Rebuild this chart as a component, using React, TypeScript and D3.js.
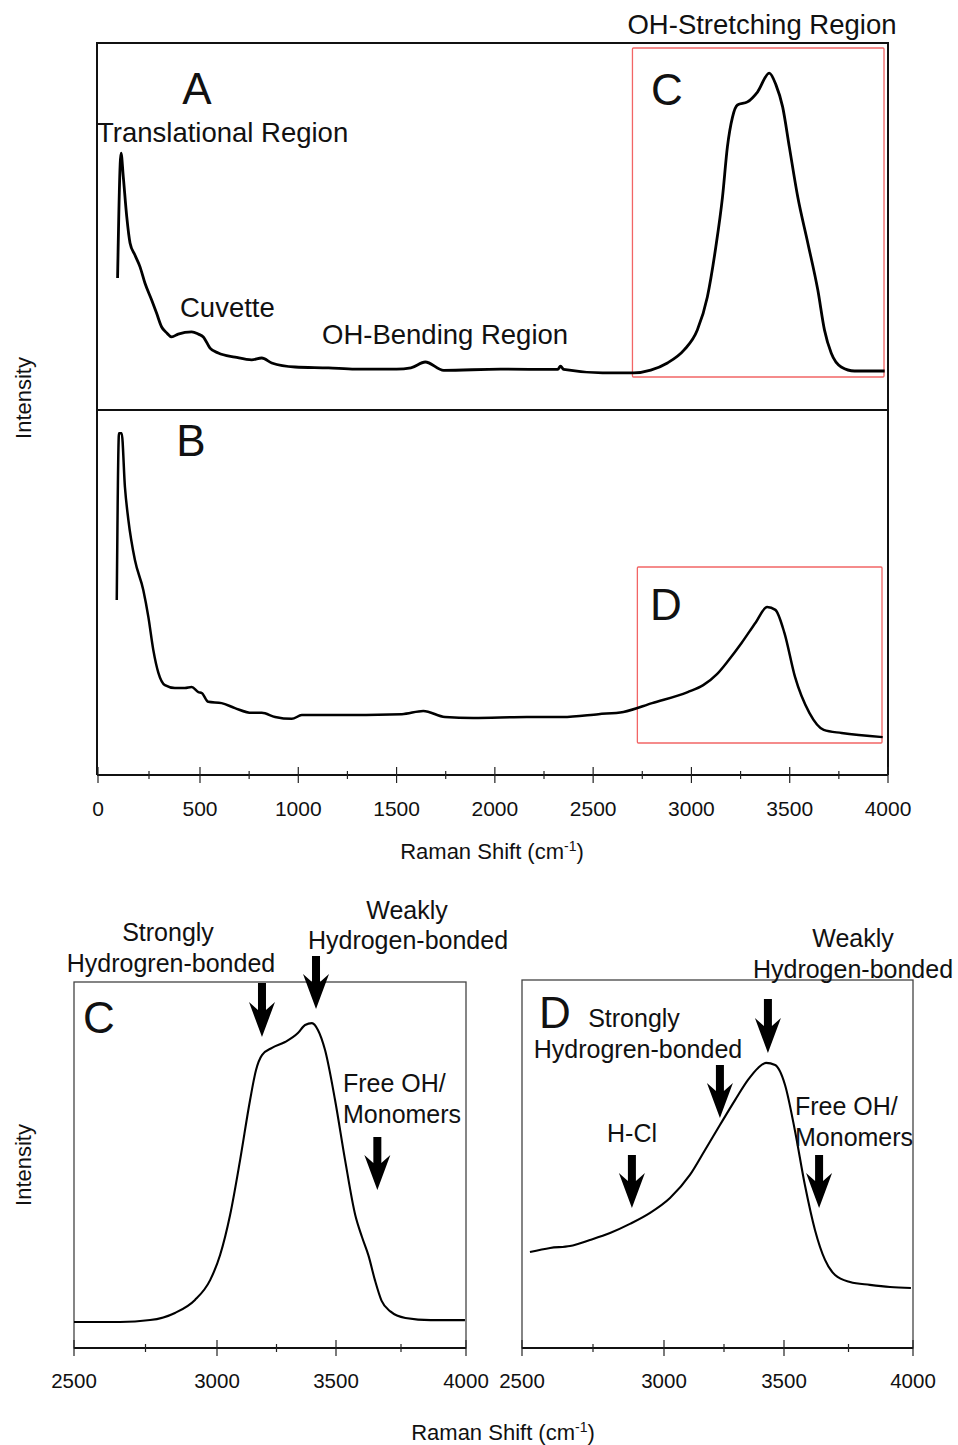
import React, { useRef, useEffect } from 'react';
import * as d3 from 'd3';

// full spectrum, panel A (HCl free)
const shiftA = [96, 113, 124, 141, 157, 181, 206, 230, 263, 287, 312, 337, 361, 393, 459, 492, 517, 551, 593, 678, 763, 814, 865, 984, 1154, 1290, 1500, 1573, 1646, 1740, 2029, 2320, 2334, 2350, 2548, 2706, 2793, 2878, 2963, 3030, 3081, 3124, 3158, 3183, 3209, 3234, 3285, 3336, 3396, 3430, 3464, 3498, 3541, 3592, 3643, 3677, 3711, 3762, 3830, 3983];
const intA = [32.9, 73.2, 65.5, 52.6, 44.2, 40.3, 36.5, 31.3, 25.8, 21.6, 17.1, 15.2, 13.9, 14.8, 15.5, 14.8, 13.9, 10.3, 8.7, 7.4, 6.5, 7.1, 5.5, 4.2, 3.9, 3.5, 3.5, 3.9, 5.8, 3.1, 3.5, 3.4, 4.5, 3.4, 2.3, 2.3, 3.2, 5.5, 9.7, 16.1, 26.8, 42.9, 59.0, 75.2, 84.8, 88.7, 89.7, 92.9, 99.0, 95.2, 88.1, 75.2, 59.0, 44.2, 29.0, 16.1, 8.7, 4.2, 2.9, 2.9];

// full spectrum, panel B
const shiftB = [92, 103, 116, 132, 149, 181, 222, 247, 271, 296, 328, 377, 426, 459, 492, 509, 542, 610, 678, 763, 814, 882, 967, 1018, 1162, 1527, 1636, 1746, 1890, 2163, 2344, 2527, 2654, 2800, 2981, 3060, 3130, 3190, 3255, 3328, 3385, 3427, 3473, 3527, 3600, 3673, 3764, 3973];
const intB = [46.0, 99.0, 99.0, 81.9, 71.4, 58.7, 49.2, 40.6, 30.2, 22.9, 19.0, 18.1, 18.1, 18.4, 16.8, 16.5, 13.7, 13.3, 11.7, 10.2, 10.2, 8.9, 8.3, 9.5, 9.5, 9.8, 10.8, 8.9, 8.6, 8.9, 8.9, 9.8, 10.5, 13.3, 16.8, 19.0, 22.5, 27.0, 32.4, 39.0, 43.8, 42.9, 35.6, 21.6, 10.2, 4.8, 3.8, 2.5];

// OH-stretching region, panel C
const shiftC = [2500, 2661, 2766, 2853, 2923, 2976, 3013, 3055, 3097, 3139, 3164, 3189, 3231, 3286, 3340, 3370, 3399, 3424, 3454, 3496, 3535, 3574, 3600, 3625, 3650, 3675, 3709, 3767, 3864, 3996];
const intC = [2.6, 2.6, 3.2, 5.5, 9.7, 16.1, 24.2, 37.1, 54.8, 74.2, 83.9, 88.7, 91.0, 92.9, 95.8, 98.4, 99.0, 96.8, 90.3, 74.2, 54.8, 37.1, 30.0, 24.0, 16.0, 9.5, 6.0, 3.9, 3.2, 3.2];

// OH-stretching region, panel D
const shiftD = [2528, 2599, 2669, 2739, 2810, 2880, 2951, 3025, 3108, 3171, 3233, 3296, 3350, 3392, 3425, 3463, 3504, 3542, 3581, 3620, 3659, 3698, 3756, 3833, 3911, 3992];
const intD = [20.0, 21.7, 22.5, 25.0, 27.9, 31.7, 36.3, 42.5, 52.1, 62.5, 72.9, 83.3, 91.7, 96.7, 98.8, 97.9, 89.6, 70.8, 47.9, 29.2, 16.7, 10.4, 7.5, 6.3, 5.4, 5.0];

const mainTicks = [0, 500, 1000, 1500, 2000, 2500, 3000, 3500, 4000];
const mainMinor = [250, 750, 1250, 1750, 2250, 2750, 3250, 3750];
const zoomTicks = [2500, 3000, 3500, 4000];
const zoomMinor = [2750, 3250, 3750];

const FONT = '"Liberation Sans", Arial, Helvetica, sans-serif';

const App = () => {
  const svgRef = useRef(null);

  useEffect(() => {
    const svg = d3.select(svgRef.current);
    svg.selectAll('*').remove();

    const line = (xs, ys, x, y) =>
      d3.line().x((d) => x(d[0])).y((d) => y(d[1])).curve(d3.curveMonotoneX)(xs.map((v, i) => [v, ys[i]]));

    const text = (x, y, s, size, anchor = 'start') =>
      svg.append('text').attr('x', x).attr('y', y).attr('font-size', size)
        .attr('font-family', FONT).attr('text-anchor', anchor).attr('fill', '#111').text(s);

    const arrow = (x, yTop, yTip) => {
      const pts = [[x - 4, yTop], [x + 4, yTop], [x + 4, yTip - 27], [x + 13, yTip - 35], [x, yTip],
        [x - 13, yTip - 35], [x - 4, yTip - 27]];
      svg.append('path').attr('d', 'M' + pts.map((p) => p.join(',')).join('L') + 'Z').attr('fill', '#000');
    };

    const xTicks = (x, yAxis, major, minor, labelY, size) => {
      major.forEach((t) => {
        svg.append('line').attr('x1', x(t)).attr('x2', x(t)).attr('y1', yAxis - 8).attr('y2', yAxis + 8)
          .attr('stroke', '#222').attr('stroke-width', 1.2);
        text(x(t), labelY, String(t), size, 'middle');
      });
      minor.forEach((t) => {
        svg.append('line').attr('x1', x(t)).attr('x2', x(t)).attr('y1', yAxis - 4).attr('y2', yAxis + 4)
          .attr('stroke', '#222').attr('stroke-width', 1.2);
      });
    };

    const axisTitle = (cx, y) => {
      const t = svg.append('text').attr('x', cx).attr('y', y).attr('font-size', 22)
        .attr('font-family', FONT).attr('text-anchor', 'middle').attr('fill', '#111');
      t.append('tspan').text('Raman Shift (cm');
      t.append('tspan').attr('dy', -8).attr('font-size', 14).text('-1');
      t.append('tspan').attr('dy', 8).text(')');
    };

    const yLabel = (cy) =>
      svg.append('text').attr('transform', `translate(31,${cy}) rotate(-90)`).attr('font-size', 22)
        .attr('font-family', FONT).attr('text-anchor', 'middle').attr('fill', '#111').text('Intensity');

    // ---------- top figure ----------
    const x = d3.scaleLinear().domain([0, 500, 4000]).range([98, 200, 888]);
    const yA = d3.scaleLinear().domain([0, 100]).range([380, 70]);
    const yB = d3.scaleLinear().domain([0, 100]).range([745, 430]);

    svg.append('path').attr('d', 'M97,775 L97,43 L888,43 L888,775').attr('fill', 'none')
      .attr('stroke', '#111').attr('stroke-width', 2);
    svg.append('line').attr('x1', 97).attr('x2', 888).attr('y1', 410).attr('y2', 410)
      .attr('stroke', '#111').attr('stroke-width', 2.2);
    svg.append('line').attr('x1', 97).attr('x2', 888).attr('y1', 775).attr('y2', 775)
      .attr('stroke', '#111').attr('stroke-width', 2.2);
    xTicks(x, 775, mainTicks, mainMinor, 816, 21);
    axisTitle(492, 859);
    yLabel(398);

    // red boxes
    svg.append('rect').attr('x', x(2700)).attr('y', 48).attr('width', 884 - x(2700)).attr('height', 329)
      .attr('fill', 'none').attr('stroke', '#f26565').attr('stroke-width', 1.3).attr('rx', 1);
    svg.append('rect').attr('x', x(2725)).attr('y', 567).attr('width', 882 - x(2725)).attr('height', 176)
      .attr('fill', 'none').attr('stroke', '#f26565').attr('stroke-width', 1.3).attr('rx', 1);

    svg.append('path').attr('d', line(shiftA, intA, x, yA)).attr('fill', 'none')
      .attr('stroke', '#000').attr('stroke-width', 2.8).attr('stroke-linejoin', 'round');
    svg.append('path').attr('d', line(shiftB, intB, x, yB)).attr('fill', 'none')
      .attr('stroke', '#000').attr('stroke-width', 2.5).attr('stroke-linejoin', 'round');

    text(197, 104, 'A', 44, 'middle');
    text(191, 456, 'B', 44, 'middle');
    text(667, 105, 'C', 44, 'middle');
    text(666, 620, 'D', 44, 'middle');
    text(97, 142, 'Translational Region', 27.5);
    text(180, 317, 'Cuvette', 27.5);
    text(322, 344, 'OH-Bending Region', 27.5);
    text(762, 34, 'OH-Stretching Region', 27.5, 'middle');

    // ---------- panel C ----------
    const xC = d3.scaleLinear().domain(zoomTicks).range([74, 217, 336, 466]);
    const yC = d3.scaleLinear().domain([0, 100]).range([1330, 1020]);
    svg.append('rect').attr('x', 74).attr('y', 982).attr('width', 392).attr('height', 366)
      .attr('fill', 'none').attr('stroke', '#444').attr('stroke-width', 1.3);
    svg.append('line').attr('x1', 74).attr('x2', 466).attr('y1', 1348).attr('y2', 1348)
      .attr('stroke', '#111').attr('stroke-width', 2);
    xTicks(xC, 1348, zoomTicks, zoomMinor, 1388, 20.5);
    svg.append('path').attr('d', line(shiftC, intC, xC, yC)).attr('fill', 'none')
      .attr('stroke', '#000').attr('stroke-width', 2.1);

    text(99, 1033, 'C', 44, 'middle');
    text(168, 941, 'Strongly', 25, 'middle');
    text(171, 972, 'Hydrogren-bonded', 25, 'middle');
    text(407, 919, 'Weakly', 25, 'middle');
    text(408, 949, 'Hydrogen-bonded', 25, 'middle');
    text(343, 1092, 'Free OH/', 25);
    text(343, 1123, 'Monomers', 25);
    arrow(xC(3189), 983, 1037);
    arrow(xC(3416), 956, 1009);
    arrow(xC(3659), 1137, 1190);

    // ---------- panel D ----------
    const xD = d3.scaleLinear().domain(zoomTicks).range([522, 664, 784, 913]);
    const yD = d3.scaleLinear().domain([0, 100]).range([1300, 1060]);
    svg.append('rect').attr('x', 522).attr('y', 980).attr('width', 391).attr('height', 368)
      .attr('fill', 'none').attr('stroke', '#444').attr('stroke-width', 1.3);
    svg.append('line').attr('x1', 522).attr('x2', 913).attr('y1', 1348).attr('y2', 1348)
      .attr('stroke', '#111').attr('stroke-width', 2);
    xTicks(xD, 1348, zoomTicks, zoomMinor, 1388, 20.5);
    svg.append('path').attr('d', line(shiftD, intD, xD, yD)).attr('fill', 'none')
      .attr('stroke', '#000').attr('stroke-width', 2.1);

    text(555, 1028, 'D', 44, 'middle');
    text(634, 1027, 'Strongly', 25, 'middle');
    text(638, 1058, 'Hydrogren-bonded', 25, 'middle');
    text(853, 947, 'Weakly', 25, 'middle');
    text(853, 978, 'Hydrogen-bonded', 25, 'middle');
    text(632, 1142, 'H-Cl', 25, 'middle');
    text(795, 1115, 'Free OH/', 25);
    text(795, 1146, 'Monomers', 25);
    arrow(xD(3433), 999, 1053);
    arrow(xD(3233), 1065, 1118);
    arrow(xD(2887), 1155, 1208);
    arrow(xD(3636), 1155, 1208);

    axisTitle(503, 1440);
    yLabel(1165);
  }, []);

  return (
    <svg ref={svgRef} width={958} height={1445}
      style={{ position: 'absolute', left: 0, top: 0, background: '#fff' }}>
    </svg>
  );
};

export default App;
